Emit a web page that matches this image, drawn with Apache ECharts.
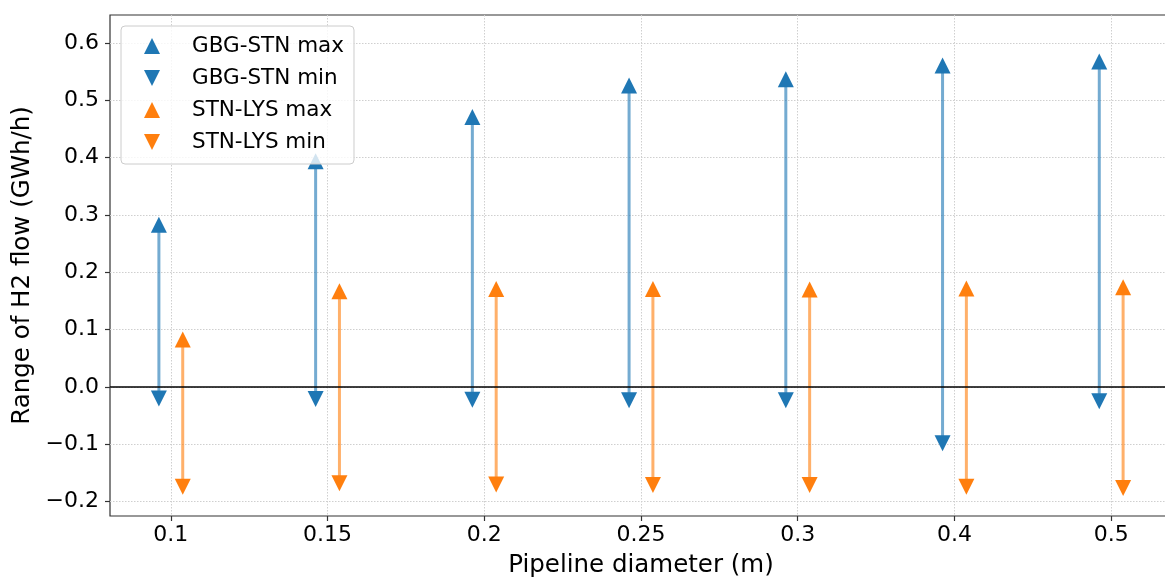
<!DOCTYPE html>
<html>
<head>
<meta charset="utf-8">
<script src="https://cdn.jsdelivr.net/npm/echarts@6/dist/echarts.min.js"></script>
<style>
  html, body { margin: 0; padding: 0; background: #ffffff; overflow: hidden; }
  #chart { width: 1165px; height: 577px; }
</style>
</head>
<body>
<div id="chart"></div>
<script>
// Pipeline diameters (m), one group of arrows per diameter
const diameters = ['0.1', '0.15', '0.2', '0.25', '0.3', '0.4', '0.5'];

// Range of H2 flow (GWh/h) on each link
const gbgStnMax = [0.283, 0.394, 0.471, 0.526, 0.537, 0.561, 0.568];
const gbgStnMin = [-0.020, -0.021, -0.022, -0.023, -0.023, -0.098, -0.025];
const stnLysMax = [0.083, 0.167, 0.171, 0.171, 0.170, 0.172, 0.174];
const stnLysMin = [-0.174, -0.168, -0.170, -0.171, -0.171, -0.174, -0.176];

// y-axis tick values
const yTicks = [-0.2, -0.1, 0.0, 0.1, 0.2, 0.3, 0.4, 0.5, 0.6];

const BLUE = '#1f77b4';
const ORANGE = '#ff7f0e';
const SHIFT = 0.076;           // side-by-side offset of the two links
const FONT = 'DejaVu Sans';

const xIdx = diameters.map((_, i) => i);
const pts = (vals, dx) => vals.map((v, i) => [i + dx, v]);
const spans = (lo, hi, dx) => lo.map((v, i) => [i + dx, v, hi[i]]);

const UP = 'path://M1,0 L2,2 L0,2 Z';
const DOWN = 'path://M0,0 L2,0 L1,2 Z';

function arrowShaft(color) {
  return function (params, api) {
    const a = api.coord([api.value(0), api.value(1)]);
    const b = api.coord([api.value(0), api.value(2)]);
    return {
      type: 'line',
      shape: { x1: a[0], y1: a[1], x2: b[0], y2: b[1] },
      style: { stroke: color, lineWidth: 3, opacity: 0.62 }
    };
  };
}

const chart = echarts.init(document.getElementById('chart'), null, { renderer: 'canvas' });

chart.setOption({
  animation: false,
  backgroundColor: '#ffffff',
  textStyle: { fontFamily: FONT },
  grid: {
    left: 110, top: 15, width: 1062, height: 501,
    outerBoundsMode: 'none',
    containLabel: false,
    show: true, borderColor: '#333333', borderWidth: 1.2,
    backgroundColor: 'transparent'
  },
  xAxis: {
    type: 'value',
    min: -0.388, max: 6.388,
    name: 'Pipeline diameter (m)',
    nameLocation: 'middle',
    nameGap: 37,
    nameTextStyle: { fontFamily: FONT, fontSize: 24.5, color: '#000000' },
    axisLine: { show: false, onZero: false },
    axisTick: { show: true, length: 5, inside: false, customValues: xIdx,
                lineStyle: { color: '#333333', width: 1.2 } },
    axisLabel: { customValues: xIdx, margin: 8, fontFamily: FONT, fontSize: 22, color: '#000000',
                 formatter: (v) => diameters[Math.round(v)] },
    splitLine: { show: true, lineStyle: { color: '#cfcfcf', type: [1.5, 1.5], width: 1 } }
  },
  yAxis: {
    type: 'value',
    min: -0.225, max: 0.649,
    name: 'Range of H2 flow (GWh/h)',
    nameLocation: 'middle',
    nameRotate: 90,
    nameGap: 62,
    nameTextStyle: { fontFamily: FONT, fontSize: 24.5, color: '#000000' },
    axisLine: { show: false, onZero: false },
    axisTick: { show: true, length: 5, inside: false, customValues: yTicks,
                lineStyle: { color: '#333333', width: 1.2 } },
    axisLabel: { customValues: yTicks, margin: 11, fontFamily: FONT, fontSize: 22, color: '#000000',
                 formatter: (v) => (Math.abs(v) < 1e-9 ? 0 : v).toFixed(1).replace('-', '\u2212') },
    splitLine: { show: true, lineStyle: { color: '#cfcfcf', type: [1.5, 1.5], width: 1 } }
  },
  legend: {
    orient: 'vertical',
    left: 121, top: 26,
    padding: [9, 10, 11, 23],
    itemWidth: 16, itemHeight: 16, itemGap: 10,
    backgroundColor: 'rgba(255,255,255,0.8)',
    borderColor: '#cccccc', borderWidth: 1, borderRadius: 4,
    textStyle: { fontFamily: FONT, fontSize: 21.5, color: '#000000', padding: [0, 0, 0, 27] },
    data: [
      { name: 'GBG-STN max', icon: UP },
      { name: 'GBG-STN min', icon: DOWN },
      { name: 'STN-LYS max', icon: UP },
      { name: 'STN-LYS min', icon: DOWN }
    ],
    z: 10
  },
  series: [
    {
      // zero reference line
      type: 'line', data: [], silent: true,
      markLine: {
        silent: true, symbol: 'none', animation: false,
        label: { show: false },
        lineStyle: { color: '#000000', width: 1.5, type: 'solid' },
        data: [{ yAxis: 0 }]
      }
    },
    { type: 'custom', name: 'gbg-shaft', silent: true, z: 2,
      renderItem: arrowShaft(BLUE), data: spans(gbgStnMin, gbgStnMax, -SHIFT) },
    { type: 'custom', name: 'stn-shaft', silent: true, z: 2,
      renderItem: arrowShaft(ORANGE), data: spans(stnLysMin, stnLysMax, SHIFT) },
    { type: 'scatter', name: 'GBG-STN max', symbol: UP, symbolSize: 16, symbolKeepAspect: false,
      itemStyle: { color: BLUE, opacity: 1 }, z: 3, data: pts(gbgStnMax, -SHIFT) },
    { type: 'scatter', name: 'GBG-STN min', symbol: DOWN, symbolSize: 16, symbolKeepAspect: false,
      itemStyle: { color: BLUE, opacity: 1 }, z: 3, data: pts(gbgStnMin, -SHIFT) },
    { type: 'scatter', name: 'STN-LYS max', symbol: UP, symbolSize: 16, symbolKeepAspect: false,
      itemStyle: { color: ORANGE, opacity: 1 }, z: 3, data: pts(stnLysMax, SHIFT) },
    { type: 'scatter', name: 'STN-LYS min', symbol: DOWN, symbolSize: 16, symbolKeepAspect: false,
      itemStyle: { color: ORANGE, opacity: 1 }, z: 3, data: pts(stnLysMin, SHIFT) }
  ]
});
</script>
</body>
</html>
